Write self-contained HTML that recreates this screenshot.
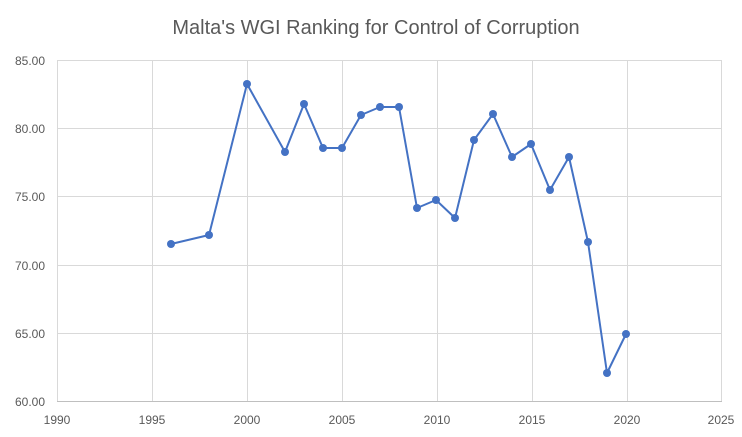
<!DOCTYPE html>
<html><head><meta charset="utf-8"><style>
body{margin:0;background:#fff;}
svg{display:block;font-family:"Liberation Sans",sans-serif;}
</style></head><body>
<svg width="742" height="437" viewBox="0 0 742 437" xmlns="http://www.w3.org/2000/svg">
<rect width="742" height="437" fill="#fff"/>
<text x="376" y="34" text-anchor="middle" font-size="20" fill="#595959">Malta's WGI Ranking for Control of Corruption</text>
<g stroke="#d9d9d9" stroke-width="1">
<line x1="57" y1="60.5" x2="722" y2="60.5"/>
<line x1="57" y1="128.5" x2="722" y2="128.5"/>
<line x1="57" y1="196.5" x2="722" y2="196.5"/>
<line x1="57" y1="265.5" x2="722" y2="265.5"/>
<line x1="57" y1="333.5" x2="722" y2="333.5"/>
<line x1="57.5" y1="60" x2="57.5" y2="401"/>
<line x1="152.5" y1="60" x2="152.5" y2="401"/>
<line x1="247.5" y1="60" x2="247.5" y2="401"/>
<line x1="342.5" y1="60" x2="342.5" y2="401"/>
<line x1="437.5" y1="60" x2="437.5" y2="401"/>
<line x1="532.5" y1="60" x2="532.5" y2="401"/>
<line x1="627.5" y1="60" x2="627.5" y2="401"/>
<line x1="721.5" y1="60" x2="721.5" y2="401"/>
</g>
<line x1="57" y1="401.5" x2="722" y2="401.5" stroke="#bfbfbf"/>
<g font-size="12" fill="#595959" text-anchor="end">
<text x="45" y="65">85.00</text><text x="45" y="133">80.00</text><text x="45" y="201">75.00</text>
<text x="45" y="270">70.00</text><text x="45" y="338">65.00</text><text x="45" y="406">60.00</text>
</g>
<g font-size="12" fill="#595959" text-anchor="middle">
<text x="57" y="424">1990</text><text x="152" y="424">1995</text><text x="247" y="424">2000</text>
<text x="342" y="424">2005</text><text x="437" y="424">2010</text><text x="532" y="424">2015</text>
<text x="627" y="424">2020</text><text x="721" y="424">2025</text>
</g>
<polyline fill="none" stroke="#4472c4" stroke-width="2" stroke-linejoin="round" points="171,244 209,235 247,84 285,152 304,104 323,148 342,148 361,115 380,107 399,107 417,208 436,200 455,218 474,140 493,114 512,157 531,144 550,190 569,157 588,242 607,373 626,334"/>
<g fill="#4472c4">
<circle cx="171" cy="244" r="4"/><circle cx="209" cy="235" r="4"/><circle cx="247" cy="84" r="4"/><circle cx="285" cy="152" r="4"/><circle cx="304" cy="104" r="4"/><circle cx="323" cy="148" r="4"/><circle cx="342" cy="148" r="4"/><circle cx="361" cy="115" r="4"/><circle cx="380" cy="107" r="4"/><circle cx="399" cy="107" r="4"/><circle cx="417" cy="208" r="4"/><circle cx="436" cy="200" r="4"/><circle cx="455" cy="218" r="4"/><circle cx="474" cy="140" r="4"/><circle cx="493" cy="114" r="4"/><circle cx="512" cy="157" r="4"/><circle cx="531" cy="144" r="4"/><circle cx="550" cy="190" r="4"/><circle cx="569" cy="157" r="4"/><circle cx="588" cy="242" r="4"/><circle cx="607" cy="373" r="4"/><circle cx="626" cy="334" r="4"/>
</g>
</svg>
</body></html>
